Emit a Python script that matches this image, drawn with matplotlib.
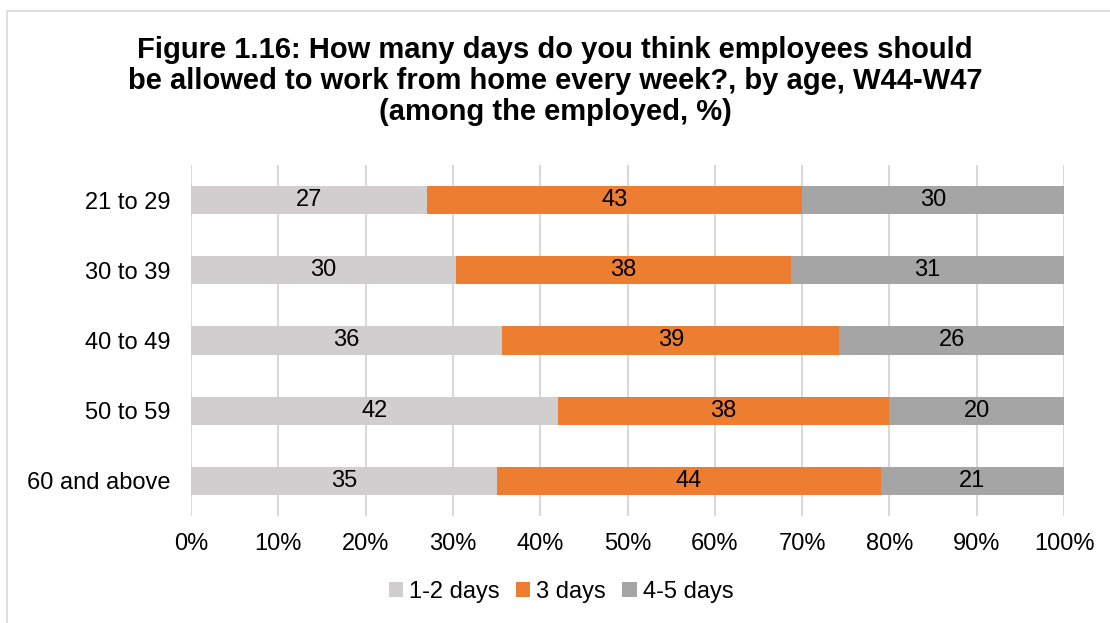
import numpy as np
import matplotlib.pyplot as plt
from matplotlib.patches import Rectangle
from matplotlib.ticker import PercentFormatter

plt.rcParams['font.family'] = ['Liberation Sans', 'DejaVu Sans']

age_groups = ['21 to 29', '30 to 39', '40 to 49', '50 to 59', '60 and above']
series_names = ['1-2 days', '3 days', '4-5 days']
days_1_2 = [27, 30, 36, 42, 35]
days_3 = [43, 38, 39, 38, 44]
days_4_5 = [30, 31, 26, 20, 21]
colors = ['#D0CECE', '#ED7D31', '#A5A5A5']

values = np.array([days_1_2, days_3, days_4_5], dtype=float)
shares = values / values.sum(axis=0)  # each row of the chart fills 100%

fig = plt.figure(figsize=(11.1, 6.23), dpi=100)
ax = fig.add_axes([191 / 1110, 1 - 516 / 623, 873 / 1110, 351 / 623])

# outer chart frame (only top and left edge visible)
fig.patches.append(Rectangle((7 / 1110, -0.1), 1.2, (623 - 11) / 623 + 0.1,
                             transform=fig.transFigure, fill=False,
                             edgecolor='#D9D9D9', linewidth=1.2))

y = np.arange(len(age_groups))
left = np.zeros(len(age_groups))
for name, share, raw, color in zip(series_names, shares, values, colors):
    bars = ax.barh(y, share, left=left, height=0.4, color=color, label=name, zorder=2)
    ax.bar_label(bars, labels=[f'{v:.0f}' for v in raw], label_type='center',
                 fontsize=17, color='black')
    left += share

ax.set_ylim(len(age_groups) - 0.5, -0.5)
ax.set_xlim(0, 1)
ax.set_yticks(y, age_groups, fontsize=17)
ax.set_xticks(np.linspace(0, 1, 11))
ax.xaxis.set_major_formatter(PercentFormatter(1.0, decimals=0))
ax.tick_params(axis='x', labelsize=17, length=0, pad=12)
ax.tick_params(axis='y', length=0, pad=15)
ax.grid(axis='x', color='#D9D9D9', linewidth=1.5, zorder=0)
for side in ax.spines.values():
    side.set_visible(False)

fig.text(0.5, 1 - 81 / 623,
         'Figure 1.16: How many days do you think employees should\n'
         'be allowed to work from home every week?, by age, W44-W47\n'
         '(among the employed, %)',
         ha='center', va='center', fontsize=21, fontweight='bold', linespacing=1.12)

fig.legend(loc='center', bbox_to_anchor=(561 / 1110, 1 - 592 / 623), ncol=3,
           frameon=False, fontsize=17, handlelength=0.6, handleheight=0.6,
           handletextpad=0.25, columnspacing=0.7)

fig.savefig('out.png', dpi=100)
